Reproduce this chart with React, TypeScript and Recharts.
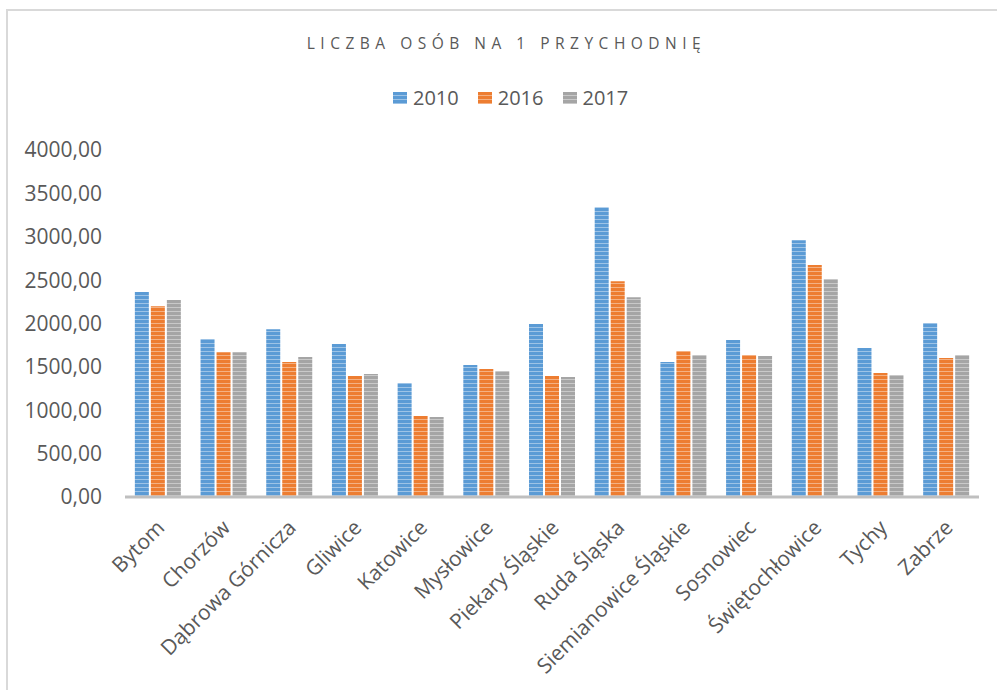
import { BarChart, Bar, XAxis, YAxis, Legend } from "recharts";

const categories = [
  "Bytom",
  "Chorzów",
  "Dąbrowa Górnicza",
  "Gliwice",
  "Katowice",
  "Mysłowice",
  "Piekary Śląskie",
  "Ruda Śląska",
  "Siemianowice Śląskie",
  "Sosnowiec",
  "Świętochłowice",
  "Tychy",
  "Zabrze",
];

const values2010 = [2362, 1820, 1935, 1763, 1313, 1521, 1993, 3341, 1555, 1809, 2961, 1717, 2005];
const values2016 = [2200, 1670, 1555, 1394, 933, 1475, 1394, 2488, 1682, 1636, 2673, 1429, 1601];
const values2017 = [2270, 1670, 1613, 1417, 922, 1452, 1382, 2304, 1636, 1624, 2512, 1406, 1636];

const yTicks = [0, 500, 1000, 1500, 2000, 2500, 3000, 3500, 4000];

const SERIES = [
  { key: "y2010", name: "2010", color: "#5B9BD5" },
  { key: "y2016", name: "2016", color: "#ED7D31" },
  { key: "y2017", name: "2017", color: "#A5A5A5" },
];

const data = categories.map((name, i) => ({
  name,
  y2010: values2010[i],
  y2016: values2016[i],
  y2017: values2017[i],
}));

const FONT = "'Open Sans', sans-serif";
const TEXT = "#595959";

function formatValue(v: number) {
  return v.toFixed(2).replace(".", ",");
}

function XTick({ x, y, payload }: any) {
  return (
    <text
      transform={`translate(${x + 8},${y + 24}) rotate(-45)`}
      textAnchor="end"
      fill={TEXT}
      fontSize={21}
      fontFamily={FONT}
    >
      {payload.value}
    </text>
  );
}

function LegendContent() {
  return (
    <div style={{ display: "flex", gap: 19, fontFamily: FONT, fontSize: 20, color: TEXT }}>
      {SERIES.map((s) => (
        <div key={s.key} style={{ display: "flex", alignItems: "center", gap: 6 }}>
          <svg width={14} height={12}>
            <rect width={14} height={12} fill={`url(#stripe-${s.key})`} />
          </svg>
          <span>{s.name}</span>
        </div>
      ))}
    </div>
  );
}

export default function App() {
  return (
    <div style={{ position: "absolute", left: 0, top: 0, width: 997, height: 690, background: "#fff", overflow: "hidden" }}>
      <div
        style={{
          position: "absolute",
          left: 6,
          top: 9,
          width: 1100,
          height: 800,
          borderLeft: "2px solid #D9D9D9",
          borderTop: "2px solid #D9D9D9",
        }}
      />
      <svg width={0} height={0} style={{ position: "absolute" }}>
        <defs>
          {SERIES.map((s) => (
            <pattern key={s.key} id={`stripe-${s.key}`} patternUnits="userSpaceOnUse" width={4} height={4}>
              <rect width={4} height={4} fill={s.color} />
              <rect y={3} width={4} height={1} fill="#ffffff" fillOpacity={0.4} />
            </pattern>
          ))}
        </defs>
      </svg>
      <div
        style={{
          position: "absolute",
          left: 0,
          top: 32,
          width: 1013,
          textAlign: "center",
          fontFamily: FONT,
          fontSize: 15.5,
          letterSpacing: 5.5,
          color: TEXT,
        }}
      >
        LICZBA OSÓB NA 1 PRZYCHODNIĘ
      </div>
      <div style={{ position: "absolute", left: 0, top: 0 }}>
        <BarChart
          width={997}
          height={690}
          data={data}
          margin={{ top: 123, right: 18, left: 0, bottom: 23 }}
          barCategoryGap="15%"
          barGap={2}
        >
          <XAxis
            dataKey="name"
            interval={0}
            height={170}
            tickLine={false}
            axisLine={{ stroke: "#BFBFBF", strokeWidth: 3 }}
            tick={<XTick />}
          />
          <YAxis
            width={125}
            domain={[0, 4000]}
            ticks={yTicks}
            tickFormatter={formatValue}
            axisLine={false}
            tickLine={false}
            tickMargin={17}
            tick={{ fill: TEXT, fontSize: 21, fontFamily: FONT }}
          />
          <Legend
            verticalAlign="top"
            content={<LegendContent />}
            wrapperStyle={{ top: 84, left: 393, width: "auto" }}
          />
          {SERIES.map((s) => (
            <Bar
              key={s.key}
              dataKey={s.key}
              name={s.name}
              fill={`url(#stripe-${s.key})`}
              isAnimationActive={false}
            />
          ))}
        </BarChart>
      </div>
    </div>
  );
}
